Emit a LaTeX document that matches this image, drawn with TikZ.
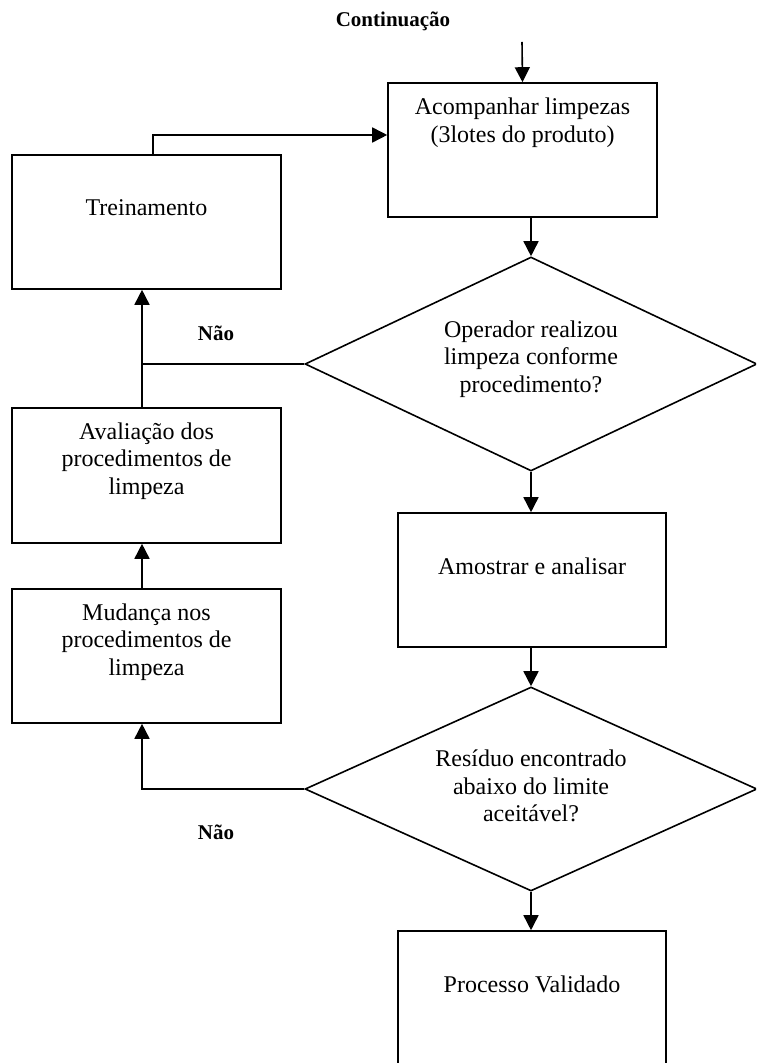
\documentclass[tikz,border=0pt]{standalone}
\usepackage{fontspec}
\setmainfont{Liberation Serif}
\usetikzlibrary{shapes.geometric,arrows.meta}
\begin{document}
\begin{tikzpicture}[x=0.5pt,y=-0.5pt,
  box/.style={draw,line width=0.8pt,rectangle,minimum width=134.5pt,minimum height=67pt,inner sep=0pt},
  dia/.style={draw,line width=0.8pt,diamond,inner sep=0pt,minimum width=226pt},
  txt/.style={align=center,font=\fontsize{12}{13.8}\selectfont,inner sep=0pt},
  lbl/.style={font=\fontsize{10.5}{12}\selectfont\bfseries,inner sep=0pt},
  arr/.style={line width=0.8pt,-{Triangle[length=7.5pt,width=7.5pt]}},
  ln/.style={line width=0.8pt}]
\path[use as bounding box,clip] (0,0) rectangle (756,1063);
\fill[white] (0,0) rectangle (756,1063);
% title
\node[lbl] (cont) at (393,21) {Continuação};
\coordinate (start) at (522,42);
% boxes
\node[box] (acomp) at (522.5,150) {};
\node[txt] (acompT) at (522.5,123) {Acompanhar limpezas\\(3lotes do produto)};
\node[box] (trein) at (146.5,222) {};
\node[txt] (treinT) at (146.5,208) {Treinamento};
\node[box,minimum height=67.5pt] (aval) at (146.5,475.5) {};
\node[txt] (avalT) at (146.5,461) {Avaliação dos\\procedimentos de\\limpeza};
\node[box] (mud) at (146.5,656) {};
\node[txt] (mudT) at (146.5,642) {Mudança nos\\procedimentos de\\limpeza};
\node[box,minimum width=134pt] (amos) at (532,580) {};
\node[txt] (amosT) at (532,566) {Amostrar e analisar};
\node[box,minimum width=134pt,minimum height=100pt] (proc) at (532,1031) {};
\node[txt] (procT) at (532,984) {Processo Validado};
% diamonds
\node[dia,minimum height=107pt] (d1) at (531,364) {};
\node[txt] (d1T) at (531,359) {Operador realizou\\limpeza conforme\\procedimento?};
\node[dia,minimum height=102pt] (d2) at (531,789) {};
\node[txt] (d2T) at (531,786) {Resíduo encontrado\\abaixo do limite\\aceitável?};
% labels
\node[lbl] (nao1) at (216,333) {Não};
\node[lbl] (nao2) at (216,832) {Não};
% junction column
\coordinate (jn1) at (142,364);
% connectors
\draw[arr] (start) -- (acomp.north);
\draw[arr] (d1.north |- acomp.south) -- (d1.north);
\draw[arr] (d1.south) -- (d1.south |- amos.north);
\draw[arr] (amos.south -| d2.north) -- (d2.north);
\draw[arr] (d2.south) -- (d2.south |- proc.north);
\draw[arr] ([xshift=3.25pt]trein.north) |- ([yshift=7.5pt]acomp.west);
\draw[ln] (d1.west) -- (jn1);
\draw[arr] (aval.north -| jn1) -- (trein.south -| jn1);
\draw[arr] (mud.north -| jn1) -- (aval.south -| jn1);
\draw[arr] (d2.west) -| (mud.south -| jn1);
\end{tikzpicture}
\end{document}
